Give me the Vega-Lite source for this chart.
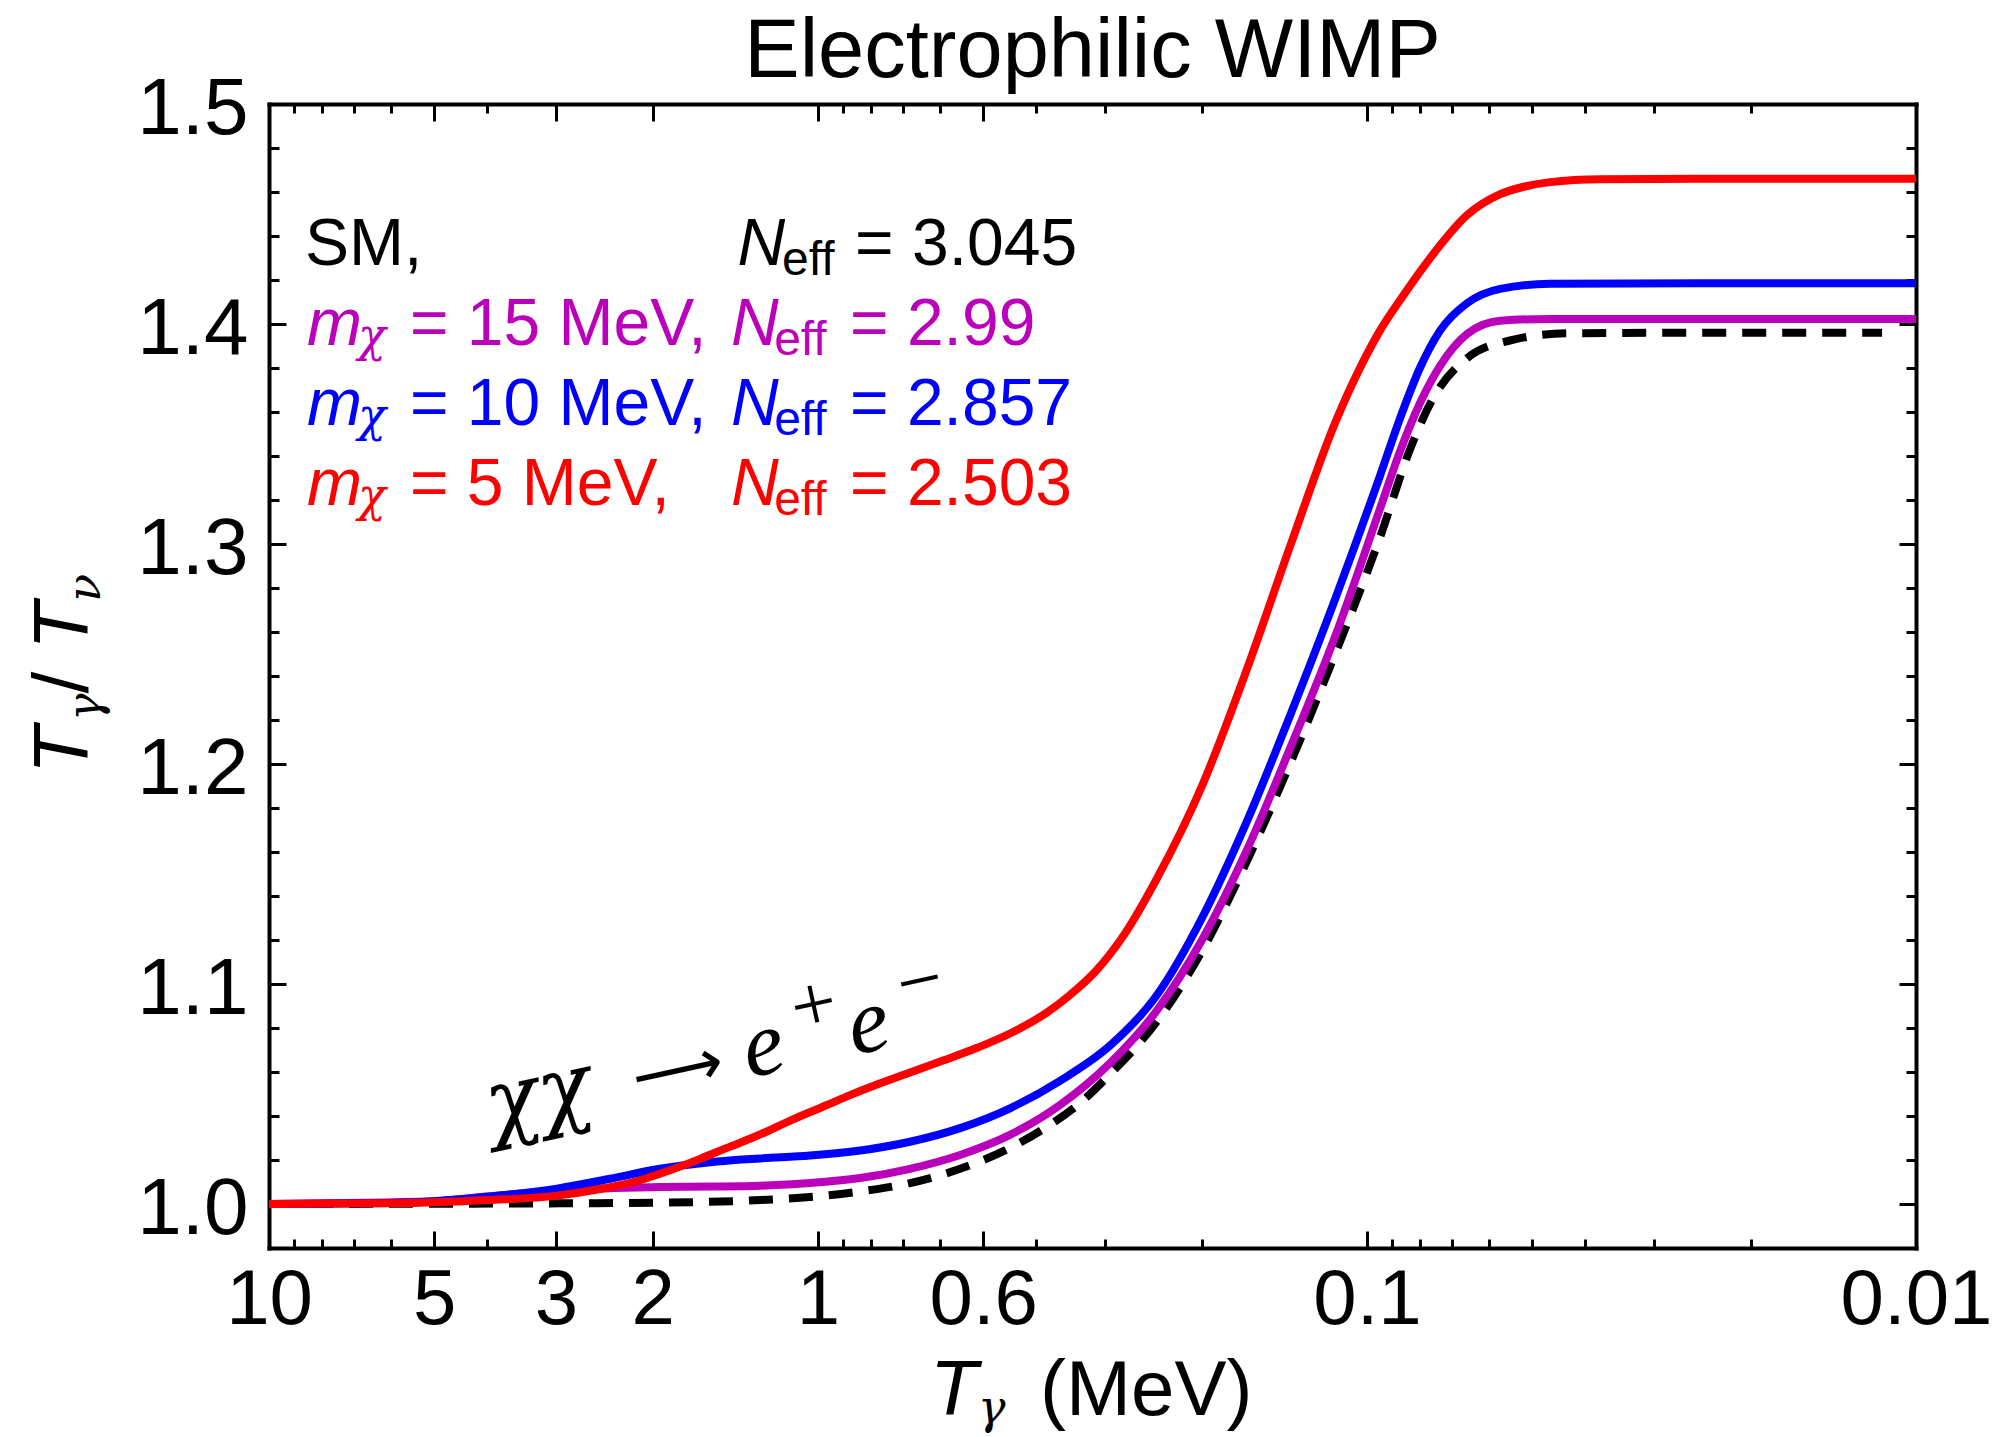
{
  "$schema": "https://vega.github.io/schema/vega-lite/v6.json",
  "width": 1647,
  "height": 1144,
  "autosize": {"type": "none"},
  "padding": {"left": 269, "top": 104, "right": 76, "bottom": 189},
  "background": "white",
  "config": {"view": {"stroke": null}, "axis": {"grid": false, "domainColor": "black", "tickColor": "black", "labelColor": "black", "labelFont": "Liberation Sans", "domainCap": "square"}},
  "datasets": {
    "curves": [
      {"series": "SM", "T": 10, "ratio": 1.0},
      {"series": "SM", "T": 2.951, "ratio": 1.0003},
      {"series": "SM", "T": 1.94, "ratio": 1.0006},
      {"series": "SM", "T": 1.275, "ratio": 1.0018},
      {"series": "SM", "T": 1.034, "ratio": 1.0032},
      {"series": "SM", "T": 0.838, "ratio": 1.0057},
      {"series": "SM", "T": 0.68, "ratio": 1.0095},
      {"series": "SM", "T": 0.551, "ratio": 1.016},
      {"series": "SM", "T": 0.447, "ratio": 1.0255},
      {"series": "SM", "T": 0.389, "ratio": 1.034},
      {"series": "SM", "T": 0.3346, "ratio": 1.0455},
      {"series": "SM", "T": 0.2938, "ratio": 1.059},
      {"series": "SM", "T": 0.2413, "ratio": 1.083},
      {"series": "SM", "T": 0.1998, "ratio": 1.115},
      {"series": "SM", "T": 0.1661, "ratio": 1.155},
      {"series": "SM", "T": 0.1376, "ratio": 1.201},
      {"series": "SM", "T": 0.1139, "ratio": 1.251},
      {"series": "SM", "T": 0.0947, "ratio": 1.303},
      {"series": "SM", "T": 0.0835, "ratio": 1.343},
      {"series": "SM", "T": 0.0759, "ratio": 1.366},
      {"series": "SM", "T": 0.0657, "ratio": 1.3845},
      {"series": "SM", "T": 0.0549, "ratio": 1.3925},
      {"series": "SM", "T": 0.0432, "ratio": 1.3958},
      {"series": "SM", "T": 0.0247, "ratio": 1.396},
      {"series": "SM", "T": 0.01153, "ratio": 1.396},

      {"series": "15", "T": 10, "ratio": 1.0},
      {"series": "15", "T": 5.005, "ratio": 1.0012},
      {"series": "15", "T": 3.975, "ratio": 1.0035},
      {"series": "15", "T": 2.988, "ratio": 1.006},
      {"series": "15", "T": 2.392, "ratio": 1.0072},
      {"series": "15", "T": 1.94, "ratio": 1.0077},
      {"series": "15", "T": 1.573, "ratio": 1.0079},
      {"series": "15", "T": 1.275, "ratio": 1.0083},
      {"series": "15", "T": 1.034, "ratio": 1.0095},
      {"series": "15", "T": 0.838, "ratio": 1.0118},
      {"series": "15", "T": 0.68, "ratio": 1.016},
      {"series": "15", "T": 0.551, "ratio": 1.0223},
      {"series": "15", "T": 0.447, "ratio": 1.0314},
      {"series": "15", "T": 0.3624, "ratio": 1.045},
      {"series": "15", "T": 0.2938, "ratio": 1.064},
      {"series": "15", "T": 0.2413, "ratio": 1.088},
      {"series": "15", "T": 0.1998, "ratio": 1.12},
      {"series": "15", "T": 0.1661, "ratio": 1.16},
      {"series": "15", "T": 0.1376, "ratio": 1.208},
      {"series": "15", "T": 0.1139, "ratio": 1.259},
      {"series": "15", "T": 0.0947, "ratio": 1.316},
      {"series": "15", "T": 0.0871, "ratio": 1.342},
      {"series": "15", "T": 0.0801, "ratio": 1.364},
      {"series": "15", "T": 0.0736, "ratio": 1.381},
      {"series": "15", "T": 0.0657, "ratio": 1.3955},
      {"series": "15", "T": 0.0572, "ratio": 1.4015},
      {"series": "15", "T": 0.0464, "ratio": 1.4023},
      {"series": "15", "T": 0.01, "ratio": 1.4023},

      {"series": "10", "T": 10, "ratio": 1.0},
      {"series": "10", "T": 6.02, "ratio": 1.0005},
      {"series": "10", "T": 5.005, "ratio": 1.0013},
      {"series": "10", "T": 3.975, "ratio": 1.0033},
      {"series": "10", "T": 2.988, "ratio": 1.007},
      {"series": "10", "T": 2.392, "ratio": 1.0115},
      {"series": "10", "T": 1.94, "ratio": 1.016},
      {"series": "10", "T": 1.573, "ratio": 1.019},
      {"series": "10", "T": 1.275, "ratio": 1.0207},
      {"series": "10", "T": 1.034, "ratio": 1.022},
      {"series": "10", "T": 0.838, "ratio": 1.0243},
      {"series": "10", "T": 0.68, "ratio": 1.0283},
      {"series": "10", "T": 0.551, "ratio": 1.0345},
      {"series": "10", "T": 0.447, "ratio": 1.0435},
      {"series": "10", "T": 0.3624, "ratio": 1.056},
      {"series": "10", "T": 0.2938, "ratio": 1.072},
      {"series": "10", "T": 0.2413, "ratio": 1.095},
      {"series": "10", "T": 0.1998, "ratio": 1.13},
      {"series": "10", "T": 0.1661, "ratio": 1.173},
      {"series": "10", "T": 0.1376, "ratio": 1.223},
      {"series": "10", "T": 0.1139, "ratio": 1.276},
      {"series": "10", "T": 0.0947, "ratio": 1.331},
      {"series": "10", "T": 0.0871, "ratio": 1.357},
      {"series": "10", "T": 0.0801, "ratio": 1.38},
      {"series": "10", "T": 0.0736, "ratio": 1.397},
      {"series": "10", "T": 0.0657, "ratio": 1.4095},
      {"series": "10", "T": 0.0572, "ratio": 1.416},
      {"series": "10", "T": 0.0464, "ratio": 1.4183},
      {"series": "10", "T": 0.0247, "ratio": 1.4185},
      {"series": "10", "T": 0.01, "ratio": 1.4185},

      {"series": "5", "T": 10, "ratio": 1.0},
      {"series": "5", "T": 6.02, "ratio": 1.0003},
      {"series": "5", "T": 5.005, "ratio": 1.0008},
      {"series": "5", "T": 3.975, "ratio": 1.0018},
      {"series": "5", "T": 2.988, "ratio": 1.0038},
      {"series": "5", "T": 2.495, "ratio": 1.0068},
      {"series": "5", "T": 2.11, "ratio": 1.0108},
      {"series": "5", "T": 1.876, "ratio": 1.015},
      {"series": "5", "T": 1.64, "ratio": 1.0205},
      {"series": "5", "T": 1.465, "ratio": 1.0255},
      {"series": "5", "T": 1.291, "ratio": 1.031},
      {"series": "5", "T": 1.111, "ratio": 1.0385},
      {"series": "5", "T": 0.963, "ratio": 1.045},
      {"series": "5", "T": 0.874, "ratio": 1.0495},
      {"series": "5", "T": 0.781, "ratio": 1.0543},
      {"series": "5", "T": 0.68, "ratio": 1.0598},
      {"series": "5", "T": 0.592, "ratio": 1.0652},
      {"series": "5", "T": 0.513, "ratio": 1.071},
      {"series": "5", "T": 0.447, "ratio": 1.0775},
      {"series": "5", "T": 0.383, "ratio": 1.087},
      {"series": "5", "T": 0.3475, "ratio": 1.095},
      {"series": "5", "T": 0.3115, "ratio": 1.106},
      {"series": "5", "T": 0.2759, "ratio": 1.123},
      {"series": "5", "T": 0.2413, "ratio": 1.148},
      {"series": "5", "T": 0.1998, "ratio": 1.19},
      {"series": "5", "T": 0.1661, "ratio": 1.242},
      {"series": "5", "T": 0.1376, "ratio": 1.3},
      {"series": "5", "T": 0.1139, "ratio": 1.356},
      {"series": "5", "T": 0.103, "ratio": 1.38},
      {"series": "5", "T": 0.0947, "ratio": 1.397},
      {"series": "5", "T": 0.0864, "ratio": 1.412},
      {"series": "5", "T": 0.0759, "ratio": 1.4315},
      {"series": "5", "T": 0.0657, "ratio": 1.4495},
      {"series": "5", "T": 0.0572, "ratio": 1.459},
      {"series": "5", "T": 0.0516, "ratio": 1.4625},
      {"series": "5", "T": 0.0464, "ratio": 1.4645},
      {"series": "5", "T": 0.0376, "ratio": 1.4658},
      {"series": "5", "T": 0.0247, "ratio": 1.466},
      {"series": "5", "T": 0.01, "ratio": 1.466}
    ]
  },
  "resolve": {"axis": {"x": "independent", "y": "independent"}},
  "layer": [
    {
      "data": {"name": "curves"},
      "transform": [{"filter": "datum.series === 'SM'"}],
      "mark": {"type": "line", "color": "black", "strokeWidth": 8, "strokeDash": [24, 16], "interpolate": "monotone"},
      "encoding": {
        "x": {"field": "T", "type": "quantitative", "scale": {"type": "log", "domain": [0.01, 10], "reverse": true, "nice": false},
          "axis": {"orient": "bottom", "values": [10, 5, 3, 2, 1, 0.5, 0.1, 0.01], "ticks": false, "tickSize": 0, "domain": true, "domainWidth": 4, "labelFontSize": 78, "labelPadding": 13, "labelFlush": false, "labelOverlap": false, "labelBound": false, "labelExpr": "datum.value == 0.5 ? '0.6' : format(datum.value, '~g')", "title": null}},
        "y": {"field": "ratio", "type": "quantitative", "scale": {"domain": [0.98, 1.5], "nice": false, "zero": false},
          "axis": {"orient": "left", "values": [1.0, 1.1, 1.2, 1.3, 1.4, 1.5], "format": ".1f", "ticks": false, "tickSize": 0, "domain": true, "domainWidth": 4, "labelFontSize": 80, "labelPadding": 21, "labelOffset": 5, "labelOverlap": false, "labelBound": false, "labelFlush": false, "title": null}}
      }
    },
    {
      "data": {"name": "curves"},
      "transform": [{"filter": "datum.series === '15'"}],
      "mark": {"type": "line", "color": "#BB00BB", "strokeWidth": 8, "interpolate": "monotone"},
      "encoding": {
        "x": {"field": "T", "type": "quantitative", "axis": {"orient": "bottom", "values": [5, 3, 2, 1, 0.5, 0.1], "labels": false, "domain": false, "tickSize": -17, "tickWidth": 3, "title": null}},
        "y": {"field": "ratio", "type": "quantitative", "axis": {"orient": "left", "values": [1.0, 1.1, 1.2, 1.3, 1.4], "labels": false, "domain": false, "tickSize": -17, "tickWidth": 3, "title": null}}
      }
    },
    {
      "data": {"name": "curves"},
      "transform": [{"filter": "datum.series === '10'"}],
      "mark": {"type": "line", "color": "#0000FF", "strokeWidth": 8, "interpolate": "monotone"},
      "encoding": {
        "x": {"field": "T", "type": "quantitative", "axis": {"orient": "bottom", "values": [9, 8, 7, 6, 4, 0.9, 0.8, 0.7, 0.6, 0.4, 0.3, 0.2, 0.09, 0.08, 0.07, 0.06, 0.05, 0.04, 0.03, 0.02], "labels": false, "domain": false, "tickSize": -9, "tickWidth": 3, "title": null}},
        "y": {"field": "ratio", "type": "quantitative", "axis": {"orient": "left", "values": [1.02, 1.04, 1.06, 1.08, 1.12, 1.14, 1.16, 1.18, 1.22, 1.24, 1.26, 1.28, 1.32, 1.34, 1.36, 1.38, 1.42, 1.44, 1.46, 1.48], "labels": false, "domain": false, "tickSize": -10, "tickWidth": 3, "title": null}}
      }
    },
    {
      "data": {"name": "curves"},
      "transform": [{"filter": "datum.series === '5'"}],
      "mark": {"type": "line", "color": "#FF0000", "strokeWidth": 8, "interpolate": "monotone"},
      "encoding": {
        "x": {"field": "T", "type": "quantitative", "axis": {"orient": "top", "values": [5, 3, 2, 1, 0.5, 0.1], "labels": false, "domain": true, "domainWidth": 4, "tickSize": -17, "tickWidth": 3, "title": null}},
        "y": {"field": "ratio", "type": "quantitative", "axis": {"orient": "right", "values": [1.0, 1.1, 1.2, 1.3, 1.4], "labels": false, "domain": true, "domainWidth": 4, "tickSize": -17, "tickWidth": 3, "title": null}}
      }
    },
    {
      "data": {"values": [{}]},
      "mark": {"type": "text", "text": "SM,", "font": "Liberation Sans", "fontSize": 66, "color": "black", "align": "left", "baseline": "alphabetic"},
      "encoding": {
        "x": {"datum": 8.6, "type": "quantitative", "axis": {"orient": "top", "values": [9, 8, 7, 6, 4, 0.9, 0.8, 0.7, 0.6, 0.4, 0.3, 0.2, 0.09, 0.08, 0.07, 0.06, 0.05, 0.04, 0.03, 0.02], "labels": false, "domain": false, "tickSize": -9, "tickWidth": 3, "title": null}},
        "y": {"datum": 1.4268, "type": "quantitative", "axis": {"orient": "right", "values": [1.02, 1.04, 1.06, 1.08, 1.12, 1.14, 1.16, 1.18, 1.22, 1.24, 1.26, 1.28, 1.32, 1.34, 1.36, 1.38, 1.42, 1.44, 1.46, 1.48], "labels": false, "domain": false, "tickSize": -10, "tickWidth": 3, "title": null}}
      }
    },
    {"data": {"values": [{}]}, "mark": {"type": "text", "text": "Electrophilic WIMP", "font": "Liberation Sans", "fontSize": 83, "color": "black", "align": "center", "baseline": "alphabetic"},
     "encoding": {"x": {"datum": 0.3162, "type": "quantitative", "axis": null}, "y": {"datum": 1.5123, "type": "quantitative", "axis": null}}},
    {"data": {"values": [{}]}, "mark": {"type": "text", "text": "N", "font": "Liberation Sans", "fontStyle": "italic", "fontSize": 66, "color": "black", "align": "left", "baseline": "alphabetic"},
     "encoding": {"x": {"datum": 1.401, "type": "quantitative", "axis": null}, "y": {"datum": 1.4268, "type": "quantitative", "axis": null}}},
    {"data": {"values": [{}]}, "mark": {"type": "text", "text": "eff", "font": "Liberation Sans", "fontSize": 48, "color": "black", "align": "left", "baseline": "alphabetic"},
     "encoding": {"x": {"datum": 1.163, "type": "quantitative", "axis": null}, "y": {"datum": 1.4223, "type": "quantitative", "axis": null}}},
    {"data": {"values": [{}]}, "mark": {"type": "text", "text": "= 3.045", "font": "Liberation Sans", "fontSize": 66, "color": "black", "align": "left", "baseline": "alphabetic"},
     "encoding": {"x": {"datum": 0.8561, "type": "quantitative", "axis": null}, "y": {"datum": 1.4268, "type": "quantitative", "axis": null}}},

    {"data": {"values": [{}]}, "mark": {"type": "text", "text": "m", "font": "Liberation Sans", "fontStyle": "italic", "fontSize": 66, "color": "#BB00BB", "align": "left", "baseline": "alphabetic"},
     "encoding": {"x": {"datum": 8.528, "type": "quantitative", "axis": null}, "y": {"datum": 1.3905, "type": "quantitative", "axis": null}}},
    {"data": {"values": [{}]}, "mark": {"type": "text", "text": "χ", "font": "DejaVu Serif", "fontStyle": "italic", "fontSize": 46, "color": "#BB00BB", "align": "left", "baseline": "alphabetic"},
     "encoding": {"x": {"datum": 6.884, "type": "quantitative", "axis": null}, "y": {"datum": 1.3878, "type": "quantitative", "axis": null}}},
    {"data": {"values": [{}]}, "mark": {"type": "text", "text": "= 15 MeV,", "font": "Liberation Sans", "fontSize": 66, "color": "#BB00BB", "align": "left", "baseline": "alphabetic"},
     "encoding": {"x": {"datum": 5.537, "type": "quantitative", "axis": null}, "y": {"datum": 1.3905, "type": "quantitative", "axis": null}}},
    {"data": {"values": [{}]}, "mark": {"type": "text", "text": "N", "font": "Liberation Sans", "fontStyle": "italic", "fontSize": 66, "color": "#BB00BB", "align": "left", "baseline": "alphabetic"},
     "encoding": {"x": {"datum": 1.44, "type": "quantitative", "axis": null}, "y": {"datum": 1.3905, "type": "quantitative", "axis": null}}},
    {"data": {"values": [{}]}, "mark": {"type": "text", "text": "eff", "font": "Liberation Sans", "fontSize": 48, "color": "#BB00BB", "align": "left", "baseline": "alphabetic"},
     "encoding": {"x": {"datum": 1.202, "type": "quantitative", "axis": null}, "y": {"datum": 1.386, "type": "quantitative", "axis": null}}},
    {"data": {"values": [{}]}, "mark": {"type": "text", "text": "= 2.99", "font": "Liberation Sans", "fontSize": 66, "color": "#BB00BB", "align": "left", "baseline": "alphabetic"},
     "encoding": {"x": {"datum": 0.8743, "type": "quantitative", "axis": null}, "y": {"datum": 1.3905, "type": "quantitative", "axis": null}}},

    {"data": {"values": [{}]}, "mark": {"type": "text", "text": "m", "font": "Liberation Sans", "fontStyle": "italic", "fontSize": 66, "color": "#0000FF", "align": "left", "baseline": "alphabetic"},
     "encoding": {"x": {"datum": 8.528, "type": "quantitative", "axis": null}, "y": {"datum": 1.3541, "type": "quantitative", "axis": null}}},
    {"data": {"values": [{}]}, "mark": {"type": "text", "text": "χ", "font": "DejaVu Serif", "fontStyle": "italic", "fontSize": 46, "color": "#0000FF", "align": "left", "baseline": "alphabetic"},
     "encoding": {"x": {"datum": 6.884, "type": "quantitative", "axis": null}, "y": {"datum": 1.3514, "type": "quantitative", "axis": null}}},
    {"data": {"values": [{}]}, "mark": {"type": "text", "text": "= 10 MeV,", "font": "Liberation Sans", "fontSize": 66, "color": "#0000FF", "align": "left", "baseline": "alphabetic"},
     "encoding": {"x": {"datum": 5.537, "type": "quantitative", "axis": null}, "y": {"datum": 1.3541, "type": "quantitative", "axis": null}}},
    {"data": {"values": [{}]}, "mark": {"type": "text", "text": "N", "font": "Liberation Sans", "fontStyle": "italic", "fontSize": 66, "color": "#0000FF", "align": "left", "baseline": "alphabetic"},
     "encoding": {"x": {"datum": 1.44, "type": "quantitative", "axis": null}, "y": {"datum": 1.3541, "type": "quantitative", "axis": null}}},
    {"data": {"values": [{}]}, "mark": {"type": "text", "text": "eff", "font": "Liberation Sans", "fontSize": 48, "color": "#0000FF", "align": "left", "baseline": "alphabetic"},
     "encoding": {"x": {"datum": 1.202, "type": "quantitative", "axis": null}, "y": {"datum": 1.3496, "type": "quantitative", "axis": null}}},
    {"data": {"values": [{}]}, "mark": {"type": "text", "text": "= 2.857", "font": "Liberation Sans", "fontSize": 66, "color": "#0000FF", "align": "left", "baseline": "alphabetic"},
     "encoding": {"x": {"datum": 0.8743, "type": "quantitative", "axis": null}, "y": {"datum": 1.3541, "type": "quantitative", "axis": null}}},

    {"data": {"values": [{}]}, "mark": {"type": "text", "text": "m", "font": "Liberation Sans", "fontStyle": "italic", "fontSize": 66, "color": "#FF0000", "align": "left", "baseline": "alphabetic"},
     "encoding": {"x": {"datum": 8.528, "type": "quantitative", "axis": null}, "y": {"datum": 1.3177, "type": "quantitative", "axis": null}}},
    {"data": {"values": [{}]}, "mark": {"type": "text", "text": "χ", "font": "DejaVu Serif", "fontStyle": "italic", "fontSize": 46, "color": "#FF0000", "align": "left", "baseline": "alphabetic"},
     "encoding": {"x": {"datum": 6.884, "type": "quantitative", "axis": null}, "y": {"datum": 1.315, "type": "quantitative", "axis": null}}},
    {"data": {"values": [{}]}, "mark": {"type": "text", "text": "= 5 MeV,", "font": "Liberation Sans", "fontSize": 66, "color": "#FF0000", "align": "left", "baseline": "alphabetic"},
     "encoding": {"x": {"datum": 5.537, "type": "quantitative", "axis": null}, "y": {"datum": 1.3177, "type": "quantitative", "axis": null}}},
    {"data": {"values": [{}]}, "mark": {"type": "text", "text": "N", "font": "Liberation Sans", "fontStyle": "italic", "fontSize": 66, "color": "#FF0000", "align": "left", "baseline": "alphabetic"},
     "encoding": {"x": {"datum": 1.44, "type": "quantitative", "axis": null}, "y": {"datum": 1.3177, "type": "quantitative", "axis": null}}},
    {"data": {"values": [{}]}, "mark": {"type": "text", "text": "eff", "font": "Liberation Sans", "fontSize": 48, "color": "#FF0000", "align": "left", "baseline": "alphabetic"},
     "encoding": {"x": {"datum": 1.202, "type": "quantitative", "axis": null}, "y": {"datum": 1.3132, "type": "quantitative", "axis": null}}},
    {"data": {"values": [{}]}, "mark": {"type": "text", "text": "= 2.503", "font": "Liberation Sans", "fontSize": 66, "color": "#FF0000", "align": "left", "baseline": "alphabetic"},
     "encoding": {"x": {"datum": 0.8743, "type": "quantitative", "axis": null}, "y": {"datum": 1.3177, "type": "quantitative", "axis": null}}},

    {"data": {"values": [{}]}, "mark": {"type": "text", "text": "χχ", "font": "DejaVu Serif", "fontStyle": "italic", "fontSize": 88, "color": "black", "align": "left", "baseline": "alphabetic", "angle": 347.7},
     "encoding": {"x": {"datum": 3.925, "type": "quantitative", "axis": null}, "y": {"datum": 1.0318, "type": "quantitative", "axis": null}}},
    {"data": {"values": [{}]}, "mark": {"type": "text", "text": "⟶", "font": "DejaVu Sans", "fontSize": 64, "color": "black", "align": "center", "baseline": "middle", "angle": 347.7},
     "encoding": {"x": {"datum": 1.799, "type": "quantitative", "axis": null}, "y": {"datum": 1.0601, "type": "quantitative", "axis": null}}},
    {"data": {"values": [{}]}, "mark": {"type": "text", "text": "e", "font": "Liberation Serif", "fontStyle": "italic", "fontSize": 92, "color": "black", "align": "left", "baseline": "alphabetic", "angle": 347.7},
     "encoding": {"x": {"datum": 1.336, "type": "quantitative", "axis": null}, "y": {"datum": 1.0573, "type": "quantitative", "axis": null}}},
    {"data": {"values": [{}]}, "mark": {"type": "text", "text": "+", "font": "Liberation Serif", "fontSize": 80, "color": "black", "align": "center", "baseline": "middle", "angle": 347.7},
     "encoding": {"x": {"datum": 1.017, "type": "quantitative", "axis": null}, "y": {"datum": 1.0898, "type": "quantitative", "axis": null}}},
    {"data": {"values": [{}]}, "mark": {"type": "text", "text": "e", "font": "Liberation Serif", "fontStyle": "italic", "fontSize": 92, "color": "black", "align": "left", "baseline": "alphabetic", "angle": 347.7},
     "encoding": {"x": {"datum": 0.8598, "type": "quantitative", "axis": null}, "y": {"datum": 1.0676, "type": "quantitative", "axis": null}}},
    {"data": {"values": [{}]}, "mark": {"type": "text", "text": "−", "font": "Liberation Serif", "fontSize": 80, "color": "black", "align": "center", "baseline": "middle", "angle": 347.7},
     "encoding": {"x": {"datum": 0.652, "type": "quantitative", "axis": null}, "y": {"datum": 1.1005, "type": "quantitative", "axis": null}}},

    {"data": {"values": [{}]}, "mark": {"type": "text", "text": "T", "font": "Liberation Sans", "fontStyle": "italic", "fontSize": 78, "color": "black", "align": "left", "baseline": "alphabetic"},
     "encoding": {"x": {"datum": 0.625, "type": "quantitative", "axis": null}, "y": {"datum": 0.90409, "type": "quantitative", "axis": null}}},
    {"data": {"values": [{}]}, "mark": {"type": "text", "text": "γ", "font": "DejaVu Serif", "fontStyle": "italic", "fontSize": 46, "color": "black", "align": "left", "baseline": "alphabetic"},
     "encoding": {"x": {"datum": 0.511, "type": "quantitative", "axis": null}, "y": {"datum": 0.90045, "type": "quantitative", "axis": null}}},
    {"data": {"values": [{}]}, "mark": {"type": "text", "text": "(MeV)", "font": "Liberation Sans", "fontSize": 78, "color": "black", "align": "left", "baseline": "alphabetic"},
     "encoding": {"x": {"datum": 0.394, "type": "quantitative", "axis": null}, "y": {"datum": 0.90409, "type": "quantitative", "axis": null}}},

    {"data": {"values": [{}]}, "mark": {"type": "text", "text": "T", "font": "Liberation Sans", "fontStyle": "italic", "fontSize": 78, "color": "black", "align": "left", "baseline": "alphabetic", "angle": 270},
     "encoding": {"x": {"datum": 21.36, "type": "quantitative", "axis": null}, "y": {"datum": 1.1955, "type": "quantitative", "axis": null}}},
    {"data": {"values": [{}]}, "mark": {"type": "text", "text": "γ", "font": "DejaVu Serif", "fontStyle": "italic", "fontSize": 46, "color": "black", "align": "left", "baseline": "alphabetic", "angle": 270},
     "encoding": {"x": {"datum": 20.31, "type": "quantitative", "axis": null}, "y": {"datum": 1.2196, "type": "quantitative", "axis": null}}},
    {"data": {"values": [{}]}, "mark": {"type": "text", "text": "/", "font": "Liberation Sans", "fontSize": 78, "color": "black", "align": "left", "baseline": "alphabetic", "angle": 270},
     "encoding": {"x": {"datum": 21.36, "type": "quantitative", "axis": null}, "y": {"datum": 1.232, "type": "quantitative", "axis": null}}},
    {"data": {"values": [{}]}, "mark": {"type": "text", "text": "T", "font": "Liberation Sans", "fontStyle": "italic", "fontSize": 78, "color": "black", "align": "left", "baseline": "alphabetic", "angle": 270},
     "encoding": {"x": {"datum": 21.36, "type": "quantitative", "axis": null}, "y": {"datum": 1.2519, "type": "quantitative", "axis": null}}},
    {"data": {"values": [{}]}, "mark": {"type": "text", "text": "ν", "font": "DejaVu Serif", "fontStyle": "italic", "fontSize": 46, "color": "black", "align": "left", "baseline": "alphabetic", "angle": 270},
     "encoding": {"x": {"datum": 20.31, "type": "quantitative", "axis": null}, "y": {"datum": 1.2737, "type": "quantitative", "axis": null}}}
  ]
}
